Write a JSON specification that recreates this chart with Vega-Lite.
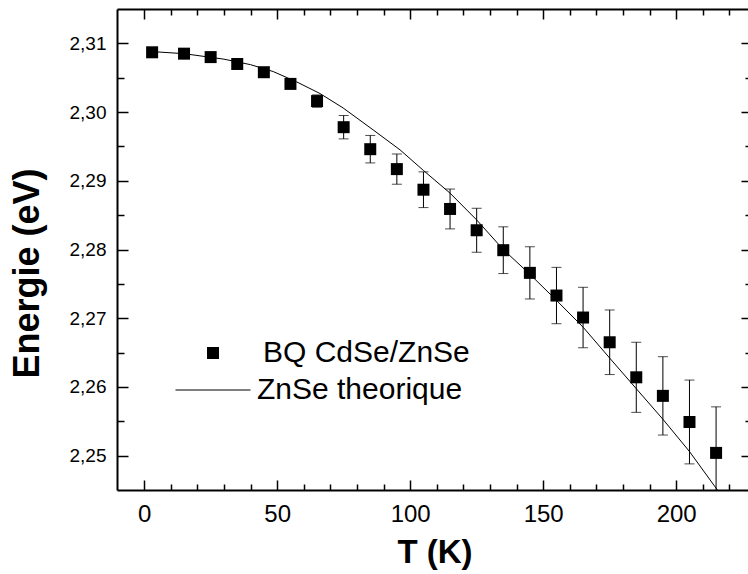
{
  "$schema": "https://vega.github.io/schema/vega-lite/v6.json",
  "width": 635,
  "height": 481,
  "autosize": "none",
  "padding": {"left": 117, "top": 9, "right": 0, "bottom": 84},
  "background": "white",
  "config": {
    "view": {"stroke": null},
    "font": "Liberation Sans",
    "axis": {
      "labelFont": "Liberation Sans",
      "titleFont": "Liberation Sans",
      "domainColor": "black",
      "tickColor": "black",
      "labelColor": "black",
      "titleColor": "black",
      "domainWidth": 2,
      "tickWidth": 1.5,
      "grid": false,
      "labelOverlap": false,
      "labelFlush": false,
      "labelBound": false
    },
    "legend": {"labelFont": "Liberation Sans", "labelColor": "black"}
  },
  "datasets": {
    "pts": [
      {"T": 3, "E": 2.3087, "lo": 2.3087, "hi": 2.3087},
      {"T": 15, "E": 2.3085, "lo": 2.3085, "hi": 2.3085},
      {"T": 25, "E": 2.3080, "lo": 2.3080, "hi": 2.3080},
      {"T": 35, "E": 2.3070, "lo": 2.3070, "hi": 2.3070},
      {"T": 45, "E": 2.3058, "lo": 2.3058, "hi": 2.3058},
      {"T": 55, "E": 2.3041, "lo": 2.3037, "hi": 2.3045},
      {"T": 65, "E": 2.3016, "lo": 2.3007, "hi": 2.3025},
      {"T": 75, "E": 2.2978, "lo": 2.2961, "hi": 2.2995},
      {"T": 85, "E": 2.2946, "lo": 2.2926, "hi": 2.2966},
      {"T": 95, "E": 2.2917, "lo": 2.2895, "hi": 2.2939},
      {"T": 105, "E": 2.2887, "lo": 2.2861, "hi": 2.2913},
      {"T": 115, "E": 2.2859, "lo": 2.2830, "hi": 2.2888},
      {"T": 125, "E": 2.2828, "lo": 2.2796, "hi": 2.2860},
      {"T": 135, "E": 2.2799, "lo": 2.2765, "hi": 2.2833},
      {"T": 145, "E": 2.2766, "lo": 2.2728, "hi": 2.2804},
      {"T": 155, "E": 2.2733, "lo": 2.2692, "hi": 2.2774},
      {"T": 165, "E": 2.2701, "lo": 2.2657, "hi": 2.2745},
      {"T": 175, "E": 2.2665, "lo": 2.2618, "hi": 2.2712},
      {"T": 185, "E": 2.2614, "lo": 2.2563, "hi": 2.2665},
      {"T": 195, "E": 2.2587, "lo": 2.2530, "hi": 2.2644},
      {"T": 205, "E": 2.2549, "lo": 2.2488, "hi": 2.2610},
      {"T": 215, "E": 2.2504, "lo": 2.2437, "hi": 2.2571}
    ],
    "theory": [
      {"T": 3, "E": 2.3088},
      {"T": 15, "E": 2.3085},
      {"T": 30, "E": 2.3077},
      {"T": 40, "E": 2.3069},
      {"T": 48.5, "E": 2.3059},
      {"T": 57.3, "E": 2.3044},
      {"T": 66.1, "E": 2.3027},
      {"T": 74.8, "E": 2.3006},
      {"T": 86.1, "E": 2.2974},
      {"T": 96.2, "E": 2.2945},
      {"T": 105, "E": 2.2915},
      {"T": 115, "E": 2.2882},
      {"T": 125, "E": 2.2843},
      {"T": 135, "E": 2.2800},
      {"T": 145, "E": 2.2764},
      {"T": 155, "E": 2.2726},
      {"T": 165, "E": 2.2687},
      {"T": 175, "E": 2.2642},
      {"T": 185.1, "E": 2.2597},
      {"T": 195, "E": 2.2553},
      {"T": 205, "E": 2.2506},
      {"T": 215.5, "E": 2.2450}
    ]
  },
  "layer": [
    {
      "data": {"name": "theory"},
      "mark": {"type": "line", "strokeWidth": 1, "clip": true},
      "encoding": {
        "x": {
          "field": "T", "type": "quantitative",
          "scale": {"domain": [-10.2, 228.5], "nice": false, "zero": false},
          "axis": {
            "orient": "bottom",
            "values": [0, 50, 100, 150, 200],
            "ticks": false,
            "tickSize": 0,
            "labelFontSize": 24,
            "labelPadding": 12,
            "title": "T (K)",
            "titleFontSize": 33,
            "titleFontWeight": "bold",
            "titleBaseline": "alphabetic",
            "titleY": 72
          }
        },
        "y": {
          "field": "E", "type": "quantitative",
          "scale": {"domain": [2.245, 2.315], "nice": false, "zero": false},
          "axis": {
            "orient": "left",
            "values": [2.25, 2.26, 2.27, 2.28, 2.29, 2.3, 2.31],
            "ticks": false,
            "tickSize": 0,
            "labelExpr": "replace(format(datum.value, '.2f'), '.', ',')",
            "labelFontSize": 19,
            "labelPadding": 11,
            "title": "Energie (eV)",
            "titleFontSize": 36,
            "titleFontWeight": "bold",
            "titleBaseline": "alphabetic",
            "titleX": -79,
            "titleY": 264
          }
        },
        "color": {
          "datum": "ZnSe theorique",
          "scale": {"range": ["black"]},
          "legend": {
            "orient": "none", "legendX": 58, "legendY": 343, "title": null,
            "symbolType": "stroke", "symbolSize": 5625, "symbolStrokeWidth": 1,
            "labelFontSize": 30, "labelOffset": 6, "labelLimit": 500, "padding": 0
          }
        }
      }
    },
    {
      "data": {"name": "pts"},
      "mark": {"type": "rule", "color": "black", "strokeWidth": 1, "clip": true},
      "encoding": {
        "x": {
          "field": "T", "type": "quantitative",
          "axis": {
            "orient": "top",
            "offset": -481,
            "values": [0, 10, 20, 30, 40, 50, 60, 70, 80, 90, 100, 110, 120, 130, 140, 150, 160, 170, 180, 190, 200, 210, 220],
            "tickSize": {"condition": {"test": "datum.value % 50 === 0", "value": 10}, "value": 6},
            "labels": false,
            "domain": false,
            "title": null
          }
        },
        "y": {
          "field": "lo", "type": "quantitative",
          "axis": {
            "orient": "right",
            "offset": -635,
            "values": [2.25, 2.255, 2.26, 2.265, 2.27, 2.275, 2.28, 2.285, 2.29, 2.295, 2.3, 2.305, 2.31],
            "tickSize": {"condition": {"test": "round(datum.value*1000) % 10 === 0", "value": 11}, "value": 7},
            "labels": false,
            "domain": false,
            "title": null
          }
        },
        "y2": {"field": "hi"}
      }
    },
    {
      "data": {"name": "pts"},
      "mark": {"type": "tick", "orient": "horizontal", "size": 10, "thickness": 1, "color": "black", "clip": true},
      "encoding": {
        "x": {
          "field": "T", "type": "quantitative",
          "axis": {
            "orient": "bottom",
            "offset": -481,
            "values": [0, 10, 20, 30, 40, 50, 60, 70, 80, 90, 100, 110, 120, 130, 140, 150, 160, 170, 180, 190, 200, 210, 220],
            "tickSize": {"condition": {"test": "datum.value % 50 === 0", "value": 10}, "value": 6},
            "labels": false,
            "title": null
          }
        },
        "y": {
          "field": "lo", "type": "quantitative",
          "axis": {
            "orient": "left",
            "offset": -635,
            "values": [2.25, 2.255, 2.26, 2.265, 2.27, 2.275, 2.28, 2.285, 2.29, 2.295, 2.3, 2.305, 2.31],
            "tickSize": {"condition": {"test": "round(datum.value*1000) % 10 === 0", "value": 11}, "value": 7},
            "labels": false,
            "title": null
          }
        }
      }
    },
    {
      "data": {"name": "pts"},
      "mark": {"type": "tick", "orient": "horizontal", "size": 10, "thickness": 1, "color": "black", "clip": true},
      "encoding": {
        "x": {"field": "T", "type": "quantitative", "axis": null},
        "y": {"field": "hi", "type": "quantitative", "axis": null}
      }
    },
    {
      "data": {"name": "pts"},
      "mark": {"type": "point", "filled": true, "color": "black", "opacity": 1, "size": 144},
      "encoding": {
        "x": {"field": "T", "type": "quantitative", "axis": null},
        "y": {"field": "E", "type": "quantitative", "axis": null},
        "shape": {
          "datum": "BQ CdSe/ZnSe",
          "scale": {"range": ["square"]},
          "legend": {
            "orient": "none", "legendX": 81, "legendY": 329, "title": null,
            "symbolSize": 144, "symbolFillColor": "black", "symbolStrokeWidth": 0,
            "labelFontSize": 30, "labelOffset": 35, "labelLimit": 500, "padding": 0
          }
        }
      }
    }
  ],
  "resolve": {"axis": {"x": "independent", "y": "independent"}}
}
